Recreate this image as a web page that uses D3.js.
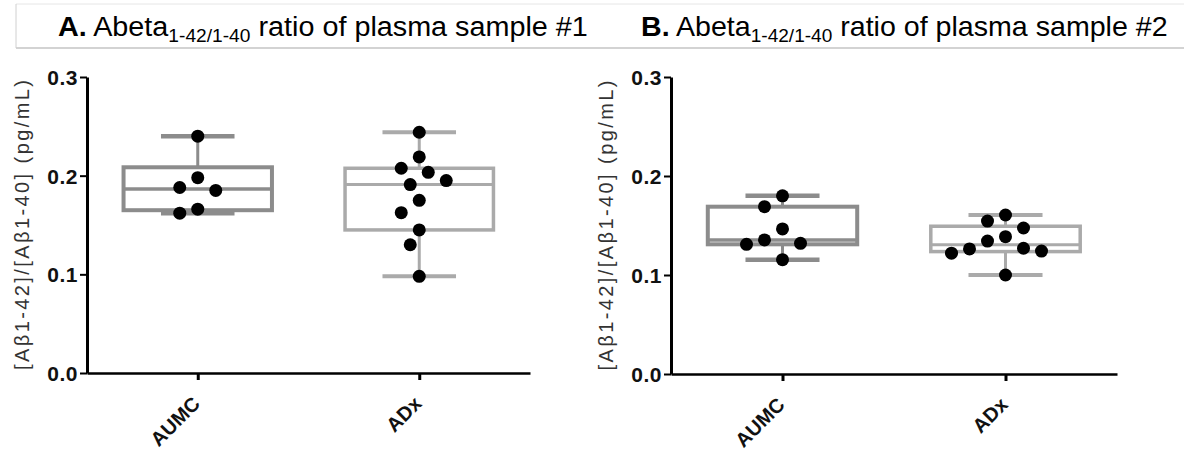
<!DOCTYPE html>
<html>
<head>
<meta charset="utf-8">
<script src="https://cdn.jsdelivr.net/npm/d3@7/dist/d3.min.js"></script>
<style>
  body { margin: 0; background: #fff; }
  svg { display: block; font-family: "Liberation Sans", Arial, sans-serif; }
</style>
</head>
<body>
<svg id="chart"></svg>
<script>
const width = 1184, height = 454;

// values
const groups = ["AUMC", "ADx"];
const sample1AUMC = [0.240, 0.198, 0.188, 0.185, 0.166, 0.162];
const sample1ADx = [0.244, 0.219, 0.2075, 0.2034, 0.195, 0.191, 0.175, 0.1625, 0.145, 0.130, 0.098];
const sample2AUMC = [0.180, 0.169, 0.1465, 0.1354, 0.132, 0.131, 0.1155];
const sample2ADx = [0.1606, 0.1545, 0.1475, 0.1387, 0.1343, 0.1270, 0.1263, 0.1242, 0.1220, 0.100];
const yTicks = [0, 0.1, 0.2, 0.3];
const titleLetters = ["A.", "B."];
const sampleNames = ["#1", "#2"];
const yLabel = "[Aβ1-42]/[Aβ1-40] (pg/mL)";

const panels = [
  { letter: titleLetters[0], sample: sampleNames[0], values: [sample1AUMC, sample1ADx],
    left: 87, right: 530, top: 77, bottom: 373, titleLeft: 58, titleRight: 588, yTitleX: 29 },
  { letter: titleLetters[1], sample: sampleNames[1], values: [sample2AUMC, sample2ADx],
    left: 671, right: 1117, top: 77, bottom: 374, titleLeft: 641, titleRight: 1168, yTitleX: 613 }
];

const boxColor = ["#8c8c8c", "#aaaaaa"];
const boxStroke = [4, 3.5];
const dotR = 6.5;

const svg = d3.select("#chart")
  .attr("width", width)
  .attr("height", height)
  .attr("viewBox", [0, 0, width, height]);

// header strip
svg.append("line").attr("x1", 16).attr("x2", width).attr("y1", 4).attr("y2", 4)
  .style("stroke", "#e6e6e6").style("stroke-width", 1);
svg.append("line").attr("x1", 16).attr("x2", width).attr("y1", 48).attr("y2", 48)
  .style("stroke", "#c4c4c4").style("stroke-width", 1.5);
svg.append("line").attr("x1", 16).attr("x2", 16).attr("y1", 4).attr("y2", 48)
  .style("stroke", "#d0d0d0").style("stroke-width", 1);

// prism style quartile, (n+1)p
function quart(sorted, p) {
  const pos = (sorted.length + 1) * p;
  const i = Math.floor(pos), f = pos - i;
  if (i < 1) return sorted[0];
  if (i >= sorted.length) return sorted[sorted.length - 1];
  return sorted[i - 1] + f * (sorted[i] - sorted[i - 1]);
}

// simple greedy beeswarm so dots don't overlap
function swarm(vals, y, step, minDist) {
  const placed = [];
  const order = vals.map((v, i) => i).sort((a, b) => vals[b] - vals[a]);
  for (const i of order) {
    const py = y(vals[i]);
    let k = 0;
    while (true) {
      const off = k === 0 ? 0 : (k % 2 ? -1 : 1) * Math.ceil(k / 2) * step;
      if (placed.every(p => Math.hypot(p.dx - off, p.y - py) >= minDist)) {
        placed.push({ dx: off, y: py, v: vals[i] });
        break;
      }
      k++;
    }
  }
  return placed;
}

panels.forEach((p) => {
  const x = d3.scalePoint().domain(groups).range([p.left, p.right]).padding(0.5);
  const y = d3.scaleLinear().domain([0, 0.3]).range([p.bottom, p.top]);
  const step = x.step();

  // title
  const tg = svg.append("g");
  const t = tg.append("text").attr("x", 0).attr("y", 0)
    .style("font-size", "27px").style("fill", "#000");
  t.append("tspan").style("font-weight", "bold").text(p.letter);
  t.append("tspan").text(" Abeta");
  t.append("tspan").attr("dy", 6).style("font-size", "18px").text("1-42/1-40");
  t.append("tspan").attr("dy", -6).text(" ratio of plasma sample " + p.sample);
  const tw = t.node().getBBox().width;
  tg.attr("transform", `translate(${p.titleLeft},36) scale(${(p.titleRight - p.titleLeft) / tw},1)`);

  // boxes
  groups.forEach((g, gi) => {
    const vals = p.values[gi];
    const s = vals.slice().sort(d3.ascending);
    const q1 = quart(s, 0.25), med = quart(s, 0.5), q3 = quart(s, 0.75);
    const lo = s[0], hi = s[s.length - 1];
    const cx = x(g);
    const bw = step * 0.335, cw = step * 0.166;
    const col = boxColor[gi], sw = boxStroke[gi];
    const bg = svg.append("g").style("stroke", col).style("fill", "none");

    bg.append("line").attr("x1", cx).attr("x2", cx).attr("y1", y(q3)).attr("y2", y(hi))
      .style("stroke-width", 3);
    bg.append("line").attr("x1", cx).attr("x2", cx).attr("y1", y(q1)).attr("y2", y(lo))
      .style("stroke-width", 3);
    bg.selectAll(".cap").data([lo, hi]).join("line")
      .attr("x1", cx - cw).attr("x2", cx + cw)
      .attr("y1", (d) => y(d)).attr("y2", (d) => y(d))
      .style("stroke-width", sw + 0.5);
    bg.append("rect")
      .attr("x", cx - bw).attr("width", bw * 2)
      .attr("y", y(q3)).attr("height", y(q1) - y(q3))
      .style("stroke-width", sw);
    bg.append("line").attr("x1", cx - bw).attr("x2", cx + bw)
      .attr("y1", y(med)).attr("y2", y(med))
      .style("stroke-width", sw - 0.5);

    svg.append("g").selectAll("circle")
      .data(swarm(vals, y, 9, 17))
      .join("circle")
      .attr("cx", (d) => cx + d.dx)
      .attr("cy", (d) => d.y)
      .attr("r", dotR)
      .style("fill", "#000");
  });

  // y axis
  const ya = svg.append("g")
    .attr("transform", `translate(${p.left},0)`)
    .call(d3.axisLeft(y).tickValues(yTicks).tickFormat(d3.format(".1f")).tickSize(7).tickSizeOuter(0));
  ya.select(".domain").style("stroke", "#000").style("stroke-width", 3);
  ya.selectAll(".tick line").style("stroke", "#000").style("stroke-width", 2);
  ya.selectAll(".tick text")
    .attr("x", -9).attr("dy", "0.36em")
    .style("font-size", "21px").style("font-weight", "bold").style("letter-spacing", "0.5px")
    .style("font-family", "'Liberation Sans', Arial, sans-serif").style("fill", "#111");

  // x axis
  const xa = svg.append("g")
    .attr("transform", `translate(0,${p.bottom})`)
    .call(d3.axisBottom(x).tickSize(7).tickSizeOuter(0));
  xa.select(".domain").style("stroke", "#000").style("stroke-width", 2.5);
  xa.selectAll(".tick line").style("stroke", "#000").style("stroke-width", 3);
  xa.selectAll(".tick text")
    .attr("y", 0).attr("dy", 0)
    .attr("transform", "translate(3,32) rotate(-45)")
    .style("text-anchor", "end")
    .style("font-size", "20px").style("font-weight", "bold")
    .style("font-family", "'Liberation Sans', Arial, sans-serif").style("fill", "#111");

  // y title
  svg.append("text")
    .attr("transform", `translate(${p.yTitleX},${(p.top + p.bottom) / 2}) rotate(-90)`)
    .attr("text-anchor", "middle")
    .attr("textLength", 290)
    .attr("lengthAdjust", "spacing")
    .style("font-size", "20px")
    .style("fill", "#333")
    .text(yLabel);
});
</script>
</body>
</html>
